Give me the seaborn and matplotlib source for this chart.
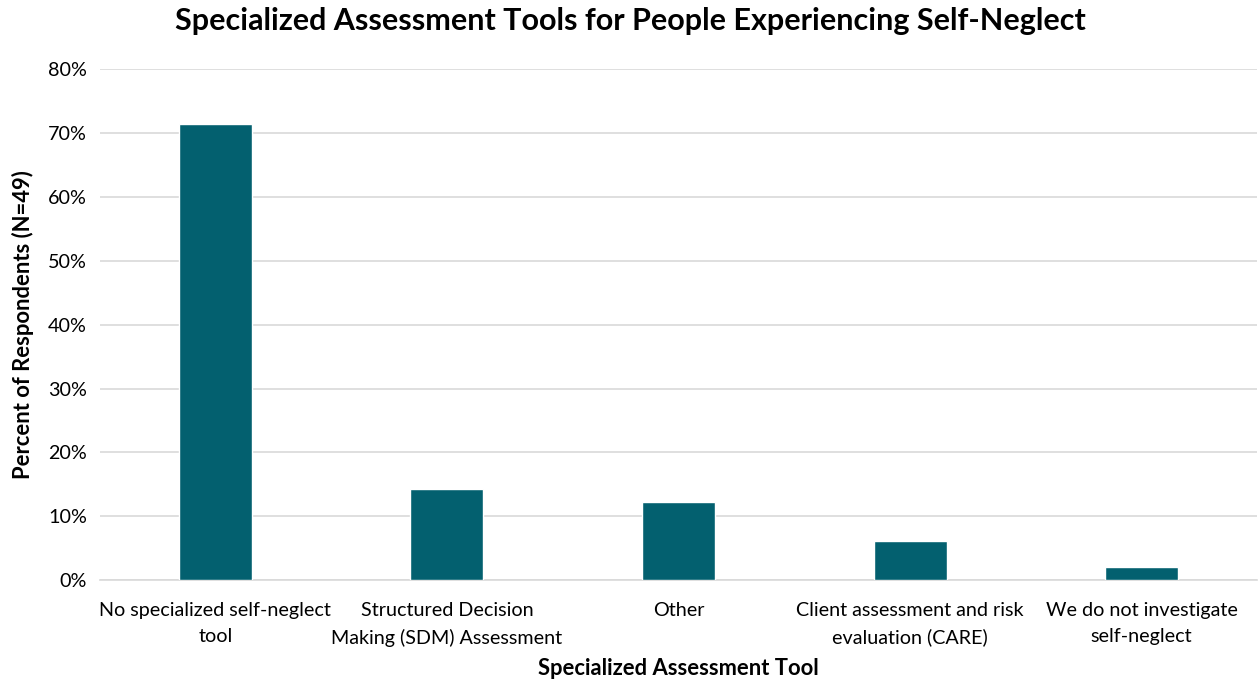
import matplotlib
matplotlib.use("Agg")
import matplotlib.pyplot as plt
import seaborn as sns
import pandas as pd
from matplotlib.ticker import PercentFormatter

# Survey responses (N=49)
categories = [
    "No specialized self-neglect\ntool",
    "Structured Decision\nMaking (SDM) Assessment",
    "Other",
    "Client assessment and risk\nevaluation (CARE)",
    "We do not investigate\nself-neglect",
]
percent = [0.714, 0.143, 0.122, 0.061, 0.020]

df = pd.DataFrame({"tool": categories, "pct": percent})

sns.set_theme(style="white")
plt.rcParams["font.family"] = ["Lato", "DejaVu Sans"]
plt.rcParams["text.color"] = "black"
plt.rcParams["axes.labelcolor"] = "black"

fig, ax = plt.subplots(figsize=(12.6, 6.85), dpi=100)
fig.subplots_adjust(left=0.079, right=0.998, top=0.899, bottom=0.153)

sns.barplot(data=df, x="tool", y="pct", color="#03606F", width=0.315,
            saturation=1, ax=ax, zorder=3)

ax.set_ylim(0, 0.8)
ax.set_yticks([i / 10 for i in range(9)])
ax.yaxis.set_major_formatter(PercentFormatter(1.0, decimals=0))
ax.grid(axis="y", color="#D9D9D9", linewidth=1.2, zorder=0)
ax.set_xlim(-0.5, 4.5)

for s in ["top", "right", "left"]:
    ax.spines[s].set_visible(False)
ax.spines["bottom"].set_color("#D9D9D9")
ax.spines["bottom"].set_linewidth(1.2)
ax.tick_params(axis="both", length=0, labelsize=14.2, colors="black")
ax.tick_params(axis="x", pad=16)
ax.tick_params(axis="y", pad=9)
for lbl in ax.get_xticklabels():
    lbl.set_linespacing(1.6)

ax.set_xlabel("Specialized Assessment Tool", fontsize=15.8, fontweight="bold", labelpad=8)
ax.set_ylabel("Percent of Respondents (N=49)", fontsize=15.8, fontweight="bold", labelpad=10)
fig.suptitle("Specialized Assessment Tools for People Experiencing Self-Neglect",
             fontsize=22, fontweight="bold", x=0.5, y=0.99)

fig.savefig("out.png", dpi=100)
